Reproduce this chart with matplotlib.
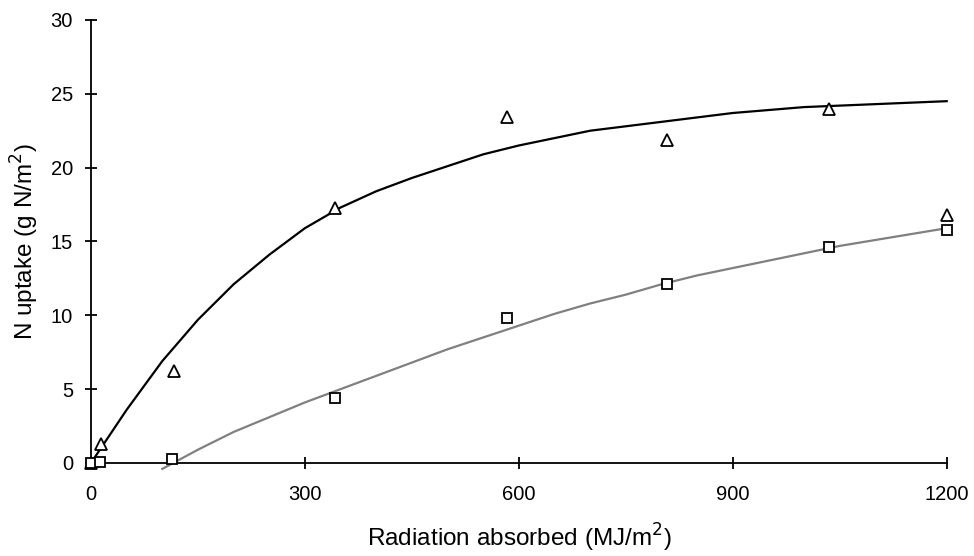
import matplotlib.pyplot as plt
import numpy as np

plt.rcParams['font.family'] = ['Liberation Sans', 'DejaVu Sans']

# observed points
obs_x = [0, 14, 116, 342, 583, 808, 1035, 1200]
tri_y = [0.0, 1.3, 6.2, 17.3, 23.4, 21.9, 24.0, 16.8]
sq_x = [0, 12, 113, 342, 583, 808, 1035, 1200]
sq_y = [0.0, 0.05, 0.25, 4.4, 9.8, 12.1, 14.6, 15.8]

# fitted curves
fit1_x = [0, 50, 100, 150, 200, 250, 300, 350, 400, 450, 500, 550, 600,
          650, 700, 750, 800, 850, 900, 950, 1000, 1050, 1100, 1150, 1200]
fit1_y = [0.0, 3.6, 6.9, 9.7, 12.1, 14.1, 15.9, 17.3, 18.4, 19.3, 20.1, 20.9, 21.5,
          22.0, 22.5, 22.8, 23.1, 23.4, 23.7, 23.9, 24.1, 24.2, 24.3, 24.4, 24.5]
fit2_x = [100, 150, 200, 250, 300, 350, 400, 450, 500, 550, 600, 650,
          700, 750, 800, 850, 900, 950, 1000, 1050, 1100, 1150, 1200]
fit2_y = [-0.4, 0.9, 2.1, 3.1, 4.1, 5.0, 5.9, 6.8, 7.7, 8.5, 9.3, 10.1,
          10.8, 11.4, 12.1, 12.7, 13.2, 13.7, 14.2, 14.7, 15.1, 15.5, 15.9]

fig = plt.figure(figsize=(9.74, 5.56), dpi=100)
ax = fig.add_axes([0.0934, 0.1673, 0.8786, 0.7968])

ax.plot(fit1_x, fit1_y, color='black', lw=1.6, zorder=2)
ax.plot(fit2_x, fit2_y, color='#808080', lw=1.6, zorder=2)
ax.plot(obs_x, tri_y, ls='none', marker='^', ms=9, mfc='white', mec='black', mew=1.3, zorder=3)
ax.plot(sq_x, sq_y, ls='none', marker='s', ms=7.5, mfc='white', mec='black', mew=1.3, zorder=3)

ax.set_xlim(0, 1200)
ax.set_ylim(0, 30)
ax.set_xticks(np.arange(0, 1201, 300))
ax.set_yticks(np.arange(0, 31, 5))
for s in ['top', 'right']:
    ax.spines[s].set_visible(False)
for s in ['left', 'bottom']:
    ax.spines[s].set_linewidth(1.3)
    ax.spines[s].set_clip_on(False)
ax.tick_params(direction='inout', length=9, width=1.3, labelsize=14.5)
ax.tick_params(axis='x', pad=11)
ax.tick_params(axis='y', pad=8.5)

ax.set_xlabel('Radiation absorbed (MJ/m$^2$)', fontsize=17.5, labelpad=13)
ax.set_ylabel('N uptake (g N/m$^2$)', fontsize=17.5, labelpad=7)

for ln in ax.lines:
    ln.set_clip_on(False)

fig.savefig('out.png', dpi=100)
